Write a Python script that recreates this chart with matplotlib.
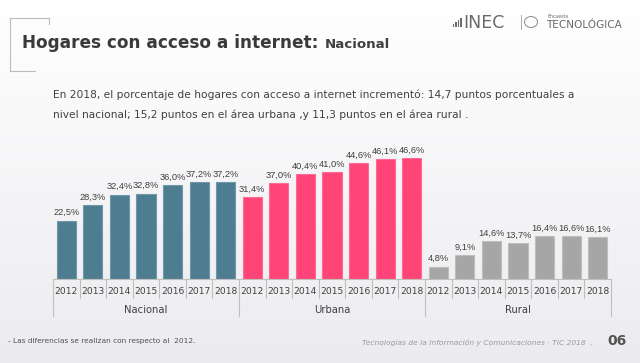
import numpy as np
import matplotlib
matplotlib.use("Agg")
import matplotlib.pyplot as plt
from matplotlib.patches import Rectangle, Ellipse
from matplotlib.lines import Line2D
import matplotlib.transforms as mtransforms

# ---------------- data ----------------
years = ["2012", "2013", "2014", "2015", "2016", "2017", "2018"]
groups = ["Nacional", "Urbana", "Rural"]
nacional = [22.5, 28.3, 32.4, 32.8, 36.0, 37.2, 37.2]
urbana = [31.4, 37.0, 40.4, 41.0, 44.6, 46.1, 46.6]
rural = [4.8, 9.1, 14.6, 13.7, 16.4, 16.6, 16.1]
series = [nacional, urbana, rural]
colors = ["#4E7D91", "#FF4477", "#A6A6A6"]
edgecolors = ["#6E98AA", "#FF6A92", "#BDBDBD"]

W, H = 640, 363
fig = plt.figure(figsize=(W / 100, H / 100), dpi=100)


def fx(x):
    return x / W


def fy(y):
    return 1 - y / H


# background gradient
bg = fig.add_axes([0, 0, 1, 1], zorder=-10)
grad = np.linspace(0, 1, 256).reshape(-1, 1)
top = np.array([1.0, 1.0, 1.0])
bot = np.array([0.925, 0.925, 0.94])
img = top[None, None, :] * (1 - grad[:, :, None]) + bot[None, None, :] * grad[:, :, None]
bg.imshow(img, aspect="auto", extent=[0, 1, 0, 1], origin="upper")
bg.set_axis_off()

# ---------------- chart axes ----------------
ax_left, ax_right, ax_base, ax_top = 53, 611, 279, 130
axh = ax_base - ax_top
ax = fig.add_axes([fx(ax_left), fy(ax_base), (ax_right - ax_left) / W, axh / H])
ax.patch.set_alpha(0)
ax.set_xlim(-0.5, 3 * len(years) - 0.5)
ax.set_ylim(0, axh / 2.6)
for s in ax.spines.values():
    s.set_visible(False)
ax.set_xticks([])
ax.set_yticks([])

trans = mtransforms.blended_transform_factory(ax.transData, ax.transAxes)
txt_color = "#404040"
line_color = "#BFBFBF"

for gi, (vals, c, ec) in enumerate(zip(series, colors, edgecolors)):
    xs = np.arange(len(years)) + gi * len(years)
    ax.bar(xs, vals, width=0.72, color=c, edgecolor=ec, linewidth=0.8, zorder=3)
    for k, (x, v) in enumerate(zip(xs, vals)):
        ax.annotate(f"{v:.1f}%".replace(".", ","), (x, v), xytext=(0, 2.5),
                    textcoords="offset points", ha="center", va="bottom",
                    fontsize=6.7, family="Liberation Sans", color=txt_color)
        ax.text(x, -13 / axh, years[k], transform=trans,
                ha="center", va="center", fontsize=6.6, color=txt_color)
    gc = gi * len(years) + (len(years) - 1) / 2
    ax.text(gc, -31 / axh, groups[gi], transform=trans, ha="center",
            va="center", fontsize=7.2, color=txt_color)

# baseline and separators
ax.plot([-0.5, 3 * len(years) - 0.5], [0, 0], transform=trans, color=line_color,
        lw=0.8, clip_on=False, zorder=4)
n = 3 * len(years)
for b in range(n + 1):
    xb = b - 0.5
    long = (b % len(years) == 0)
    ybot = -37 / axh if long else -19 / axh
    ax.plot([xb, xb], [0, ybot], transform=trans, color=line_color, lw=0.8,
            clip_on=False)

# ---------------- titles & text ----------------
title_color = "#3A3A3A"
t = fig.text(fx(22), fy(48), "Hogares con acceso a internet:", fontsize=12.2,
             fontweight="bold", color=title_color, va="baseline", ha="left")
fig.canvas.draw()
bb = t.get_window_extent()
fig.text(fx(bb.x1 + 6), fy(48), "Nacional", fontsize=9.6, fontweight="bold",
         color="#404040", va="baseline", ha="left")

# bracket
bcol = "#BBBBBB"
fig.add_artist(Line2D([fx(10), fx(10)], [fy(18), fy(71)], color=bcol, lw=0.8))
fig.add_artist(Line2D([fx(10), fx(49)], [fy(18), fy(18)], color=bcol, lw=0.8))
fig.add_artist(Line2D([fx(49), fx(49)], [fy(18), fy(24)], color=bcol, lw=0.8))
fig.add_artist(Line2D([fx(10), fx(35)], [fy(71), fy(71)], color=bcol, lw=0.8))

para = ("En 2018, el porcentaje de hogares con acceso a internet incrementó: 14,7 puntos porcentuales a",
        "nivel nacional; 15,2 puntos en el área urbana ,y 11,3 puntos en el área rural .")
fig.text(fx(53), fy(95), para[0], fontsize=7.65, color="#404040", va="center")
fig.text(fx(53), fy(115), para[1], fontsize=7.65, color="#404040", va="center")

# logo
lc = "#6A6A6A"
for i, hgt in enumerate([3, 5, 7, 9]):
    fig.add_artist(Rectangle((fx(453 + i * 2.4), fy(27)), 1.4 / W, hgt / H,
                             color=lc, lw=0))
fig.text(fx(463), fy(22.5), "INEC", fontsize=12.5, color=lc, va="center",
         ha="left")
fig.add_artist(Line2D([fx(521), fx(521)], [fy(15), fy(29)], color="#AAAAAA", lw=0.7))
fig.add_artist(Ellipse((fx(531), fy(22)), 13 / W, 11 / H, fill=False,
                       edgecolor="#888888", lw=0.7))
fig.text(fx(547), fy(16.5), "Encuesta", fontsize=3.3, color=lc, va="center",
         ha="left")
fig.text(fx(546), fy(24.5), "TECNOLÓGICA", fontsize=7.6, color=lc, va="center",
         ha="left")

# footer
fig.text(fx(8), fy(341), "- Las diferencias se realizan con respecto al  2012.",
         fontsize=5.3, color="#505050", va="center", ha="left")
fig.text(fx(593), fy(342), "Tecnologías de la Información y Comunicaciones · TIC 2018  .",
         fontsize=5.4, color="#9A9A9A", style="italic", va="center", ha="right")
fig.text(fx(627), fy(341), "06", fontsize=10, fontweight="bold", color="#555555",
         va="center", ha="right")

fig.savefig("out.png", dpi=100)
